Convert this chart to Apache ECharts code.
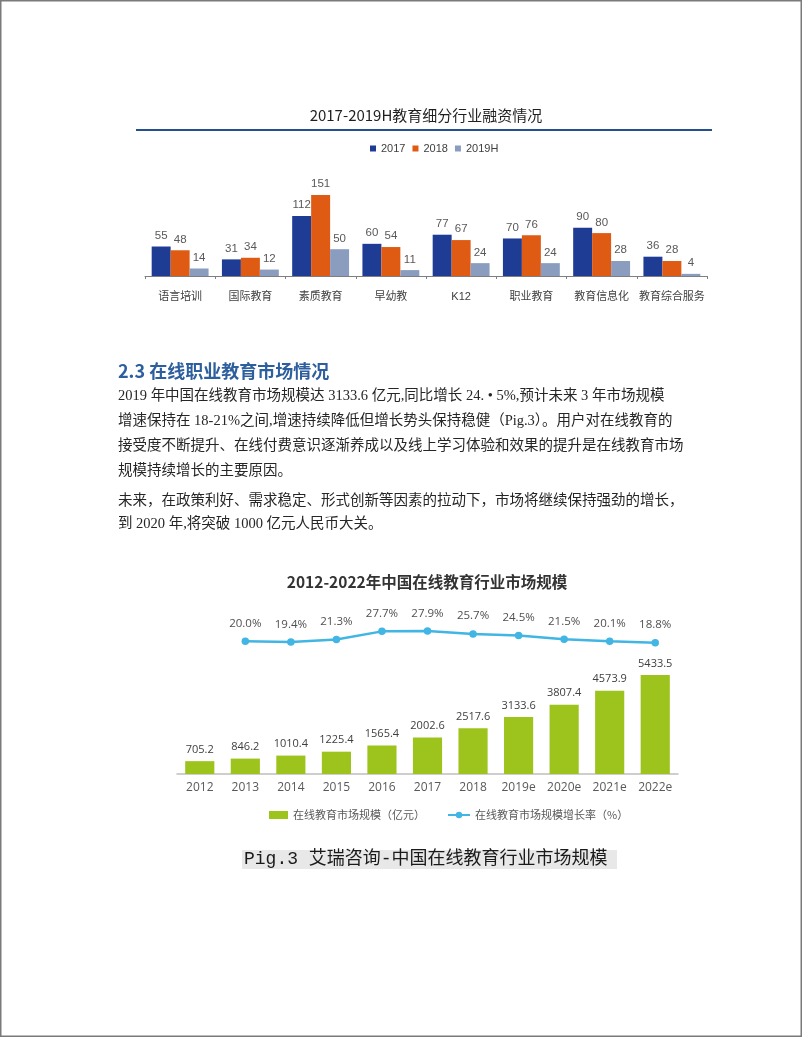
<!DOCTYPE html>
<html>
<head>
<meta charset="utf-8">
<script src="https://cdn.jsdelivr.net/npm/echarts@6/dist/echarts.min.js"></script>
<style>
html,body{margin:0;padding:0;background:#fff;}
#main{width:802px;height:1037px;}
</style>
</head>
<body>
<div id="main"></div>
<script>
// ---- Chart 1 data ----
const topCategories = ['语言培训', '国际教育', '素质教育', '早幼教', 'K12', '职业教育', '教育信息化', '教育综合服务'];
const fund2017 = [55, 31, 112, 60, 77, 70, 90, 36];
const fund2018 = [48, 34, 151, 54, 67, 76, 80, 28];
const fund2019H = [14, 12, 50, 11, 24, 24, 28, 4];

// ---- Chart 2 data ----
const years = ['2012', '2013', '2014', '2015', '2016', '2017', '2018', '2019e', '2020e', '2021e', '2022e'];
const marketSize = [705.2, 846.2, 1010.4, 1225.4, 1565.4, 2002.6, 2517.6, 3133.6, 3807.4, 4573.9, 5433.5];
const growthRate = [null, 20.0, 19.4, 21.3, 27.7, 27.9, 25.7, 24.5, 21.5, 20.1, 18.8];

// ---- Texts ----
const title1 = '2017-2019H教育细分行业融资情况';
const title2 = '2012-2022年中国在线教育行业市场规模';
const heading = '2.3 在线职业教育市场情况';
const paraLines = [
  '2019 年中国在线教育市场规模达 3133.6 亿元,同比增长 24. • 5%,预计未来 3 年市场规模',
  '增速保持在 18-21%之间,增速持续降低但增长势头保持稳健（Pig.3）。用户对在线教育的',
  '接受度不断提升、在线付费意识逐渐养成以及线上学习体验和效果的提升是在线教育市场',
  '规模持续增长的主要原因。',
  '未来，在政策利好、需求稳定、形式创新等因素的拉动下，市场将继续保持强劲的增长，',
  '到 2020 年,将突破 1000 亿元人民币大关。'
];
const paraY = [396, 421, 446, 471, 501, 524];
const caption = 'Pig.3 艾瑞咨询-中国在线教育行业市场规模';

const narrow = '"Liberation Sans Narrow","Liberation Sans","Noto Sans CJK SC",sans-serif';
const cjk = '"Noto Sans CJK SC",sans-serif';
const paraFont = '14.5px "Liberation Serif","Noto Sans CJK SC",serif';

function txt(text, x, y, font, fill, align) {
  return {
    type: 'text', silent: true,
    style: {
      text: text, x: x, y: y, font: font, fill: fill,
      textAlign: align || 'left', textVerticalAlign: 'middle',
      align: align || 'left', verticalAlign: 'middle'
    }
  };
}

const elements = [
  { type: 'rect', silent: true, shape: { x: 0.75, y: 0.75, width: 800.5, height: 1035.5 },
    style: { fill: 'none', stroke: '#7a7a7a', lineWidth: 1.5 } },
  txt(title1, 426, 115, '15px "Noto Sans CJK SC"', '#1f1f1f', 'center'),
  { type: 'line', silent: true, shape: { x1: 136, y1: 130, x2: 712, y2: 130 },
    style: { stroke: '#24508f', lineWidth: 2 } },
  txt(heading, 118, 371, 'bold 18px "Noto Sans CJK SC"', '#2d5e9e', 'left'),
  txt(title2, 427, 582, 'bold 15.5px "Noto Sans CJK SC"', '#333333', 'center'),
  { type: 'rect', silent: true, shape: { x: 242, y: 850, width: 375, height: 19 },
    style: { fill: '#e8e8e8' } },
  txt(caption, 244, 859.5, '18px "Liberation Mono","Noto Sans CJK SC",monospace', '#1a1a1a', 'left')
];
paraLines.forEach(function (l, i) {
  elements.push(txt(l, 118, paraY[i], paraFont, '#262626', 'left'));
});

const chart = echarts.init(document.getElementById('main'), null, { renderer: 'canvas' });
const topLabel = { show: true, position: 'top', distance: 5, fontSize: 11.5, color: '#595959', fontFamily: narrow };

const option = {
  animation: false,
  backgroundColor: '#ffffff',
  graphic: { elements: elements },
  legend: [
    { left: 370, top: 143, padding: 0, icon: 'rect', itemWidth: 6, itemHeight: 6, itemGap: 7,
      data: ['2017', '2018', '2019H'],
      textStyle: { fontSize: 11, color: '#404040', fontFamily: narrow } },
    { left: 269, top: 809.5, padding: 0, icon: 'rect', itemWidth: 19, itemHeight: 8,
      data: ['在线教育市场规模（亿元）'],
      textStyle: { fontSize: 11, color: '#595959', fontFamily: cjk } },
    { left: 447, top: 809.5, padding: 0, itemWidth: 22, itemHeight: 8,
      data: ['在线教育市场规模增长率（%）'],
      textStyle: { fontSize: 11, color: '#595959', fontFamily: cjk } }
  ],
  grid: [
    { left: 145, width: 562, top: 190.2, height: 85.8 },
    { left: 177, width: 501, top: 664.7, height: 109.3 },
    { left: 177, width: 501, top: 628.4, height: 38.6 }
  ],
  xAxis: [
    { gridIndex: 0, type: 'category', data: topCategories,
      axisLine: { lineStyle: { color: '#7f7f7f', width: 1 } },
      axisTick: { show: true, length: 3, lineStyle: { color: '#7f7f7f' } },
      axisLabel: { interval: 0, margin: 15, fontSize: 11, color: '#404040', fontFamily: narrow } },
    { gridIndex: 1, type: 'category', data: years,
      axisLine: { lineStyle: { color: '#bfbfbf', width: 1.5 } },
      axisTick: { show: false },
      axisLabel: { interval: 0, margin: 8, fontSize: 12, color: '#595959', fontFamily: '"Open Sans",sans-serif' } },
    { gridIndex: 2, type: 'category', data: years, show: false }
  ],
  yAxis: [
    { gridIndex: 0, type: 'value', min: 0, max: 160, show: false, splitLine: { show: false } },
    { gridIndex: 1, type: 'value', min: 0, max: 6000, show: false, splitLine: { show: false } },
    { gridIndex: 2, type: 'value', min: 0, max: 30, show: false, splitLine: { show: false } }
  ],
  series: [
    { name: '2017', type: 'bar', xAxisIndex: 0, yAxisIndex: 0, data: fund2017,
      barGap: '0%', barCategoryGap: '19%', itemStyle: { color: '#1f3c94' }, label: topLabel },
    { name: '2018', type: 'bar', xAxisIndex: 0, yAxisIndex: 0, data: fund2018,
      barGap: '0%', barCategoryGap: '19%', itemStyle: { color: '#df5a12' }, label: topLabel },
    { name: '2019H', type: 'bar', xAxisIndex: 0, yAxisIndex: 0, data: fund2019H,
      barGap: '0%', barCategoryGap: '19%', itemStyle: { color: '#8b9dbf' }, label: topLabel },
    { name: '在线教育市场规模（亿元）', type: 'bar', xAxisIndex: 1, yAxisIndex: 1, data: marketSize,
      barCategoryGap: '36%', itemStyle: { color: '#9dc41c' },
      label: { show: true, position: 'top', distance: 6, fontSize: 11, color: '#404040',
        fontFamily: '"Open Sans",sans-serif',
        formatter: function (p) { return p.value.toFixed(1); } } },
    { name: '在线教育市场规模增长率（%）', type: 'line', xAxisIndex: 2, yAxisIndex: 2, data: growthRate,
      symbol: 'circle', symbolSize: 7.5,
      lineStyle: { color: '#41b5e3', width: 2.5 }, itemStyle: { color: '#41b5e3' },
      label: { show: true, position: 'top', distance: 8, fontSize: 11.5, color: '#505050',
        fontFamily: '"Open Sans",sans-serif',
        formatter: function (p) { return p.value == null ? '' : Number(p.value).toFixed(1) + '%'; } } }
  ]
};
chart.setOption(option);
</script>
</body>
</html>
